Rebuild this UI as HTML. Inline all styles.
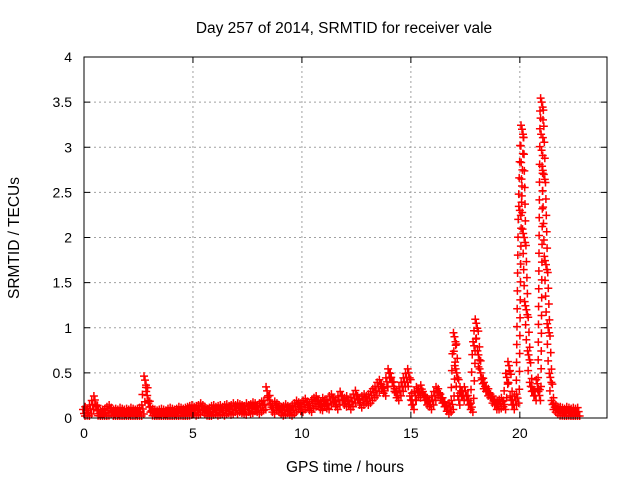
<!DOCTYPE html>
<html><head><meta charset="utf-8"><style>
body{margin:0;background:#fff;}
svg{display:block;font-family:"Liberation Sans",sans-serif;}
</style></head><body>
<svg id="chart" width="640" height="480">
<text x="344" y="33" font-size="15.5" text-anchor="middle">Day 257 of 2014, SRMTID for receiver vale</text>
<text x="345" y="472" font-size="15.5" text-anchor="middle">GPS time / hours</text>
<text transform="translate(19,238) rotate(-90)" font-size="15.5" text-anchor="middle">SRMTID / TECUs</text>
<g id="grid"></g><g id="marks"></g><g id="axes"></g>
</svg>
<script>
const xTicks=[0,5,10,15,20];
const yTicks=[0,0.5,1,1.5,2,2.5,3,3.5,4];
const yTickLabels=["0","0.5","1","1.5","2","2.5","3","3.5","4"];
const startHour=0, stepHour=0.1;
const srmtid=[
0.05,0.08,0.06,0.1,0.15,0.2,0.08,0.05,0.04,0.05,
0.06,0.08,0.1,0.07,0.05,0.06,0.05,0.07,0.06,0.05,
0.06,0.05,0.07,0.06,0.05,0.06,0.07,0.1,0.42,0.25,
0.12,0.08,0.06,0.05,0.04,0.05,0.06,0.05,0.04,0.06,
0.07,0.06,0.05,0.06,0.08,0.07,0.06,0.07,0.08,0.09,
0.1,0.08,0.09,0.1,0.12,0.1,0.08,0.06,0.07,0.09,
0.1,0.08,0.09,0.1,0.08,0.1,0.11,0.09,0.1,0.12,
0.1,0.12,0.11,0.1,0.09,0.12,0.1,0.11,0.13,0.12,
0.1,0.12,0.14,0.15,0.3,0.2,0.12,0.1,0.14,0.12,
0.1,0.08,0.09,0.11,0.09,0.08,0.1,0.12,0.15,0.13,
0.12,0.15,0.17,0.14,0.12,0.16,0.18,0.2,0.15,0.14,
0.18,0.16,0.15,0.2,0.22,0.18,0.15,0.2,0.25,0.2,
0.18,0.2,0.15,0.18,0.22,0.26,0.2,0.17,0.2,0.22,
0.2,0.22,0.25,0.28,0.3,0.35,0.38,0.33,0.3,0.4,
0.5,0.45,0.35,0.28,0.25,0.3,0.35,0.4,0.45,0.5,
0.2,0.15,0.25,0.3,0.28,0.32,0.25,0.2,0.18,0.15,
0.2,0.25,0.3,0.28,0.22,0.18,0.13,0.1,0.12,0.15,
0.9,0.5,0.2,0.3,0.25,0.3,0.2,0.15,0.12,0.8,
1.05,0.7,0.5,0.38,0.35,0.3,0.28,0.22,0.2,0.15,
0.15,0.16,0.18,0.15,0.45,0.58,0.2,0.15,0.2,0.22,
2.3,3.2,2.0,1.2,0.7,0.35,0.3,0.25,0.38,0.25,
3.5,2.7,1.7,1.0,0.45,0.15,0.12,0.1,0.08,0.08,
0.07,0.06,0.08,0.07,0.06,0.07,0.06,0.07
];
const NS="http://www.w3.org/2000/svg";
const X0=84,X1=607,Y0=418,Y1=57;
function xs(h){return X0+(h-0)/24*(X1-X0);}
function ys(v){return Y0-(v-0)/4*(Y0-Y1);}
function mk(tag,attrs,parent){const e=document.createElementNS(NS,tag);for(const k in attrs)e.setAttribute(k,attrs[k]);parent.appendChild(e);return e;}
const grid=document.getElementById('grid'),axes=document.getElementById('axes'),marks=document.getElementById('marks');
xTicks.forEach(t=>{
  const x=xs(t);
  if(t>0){const g=mk('line',{x1:x,x2:x,y1:Y0,y2:Y1,stroke:'#a0a0a0','stroke-dasharray':'2,3'},grid);
  
  }
  mk('line',{x1:x,x2:x,y1:Y0,y2:Y0-6,stroke:'#000'},axes);
  mk('line',{x1:x,x2:x,y1:Y1,y2:Y1+6,stroke:'#000'},axes);
  const l=mk('text',{x:x,y:Y0+20,'font-size':14,'text-anchor':'middle'},axes);l.textContent=t;
  
  
});
yTicks.forEach((t,i)=>{
  const y=ys(t);
  if(t>0&&t<4){const g=mk('line',{x1:X0,x2:X1,y1:y,y2:y,stroke:'#a0a0a0','stroke-dasharray':'2,3'},grid);
  
  }
  mk('line',{x1:X0,x2:X0+6,y1:y,y2:y,stroke:'#000'},axes);
  mk('line',{x1:X1,x2:X1-6,y1:y,y2:y,stroke:'#000'},axes);
  const l=mk('text',{x:X0-12,y:y+5,'font-size':14,'text-anchor':'end'},axes);l.textContent=yTickLabels[i];
  
  
});
const frame=mk('rect',{x:X0,y:Y1,width:X1-X0,height:Y0-Y1,fill:'none',stroke:'#000'},axes);


function cross(x,y){
  const p=mk('path',{d:`M${x-4},${y}h8M${x},${y-4}v8`,stroke:'#f00','stroke-width':1.5,fill:'none'},marks);
  
  
}
let px=null,py=null;
srmtid.forEach((v,i)=>{
  const x=xs(startHour+i*stepHour),y=ys(v);
  if(px!==null){
    const n=Math.max(1,Math.ceil(Math.abs(y-py)/9));
    for(let k=1;k<n;k++){cross(px+(x-px)*k/n+(k%2?1.5:-1.5),py+(y-py)*k/n);}
  }
  cross(x,y);
  cross(x+1,Math.min(Y0-2,y+5));
  cross(x-1,y-4);
  px=x;py=y;
});
</script>
</body></html>
